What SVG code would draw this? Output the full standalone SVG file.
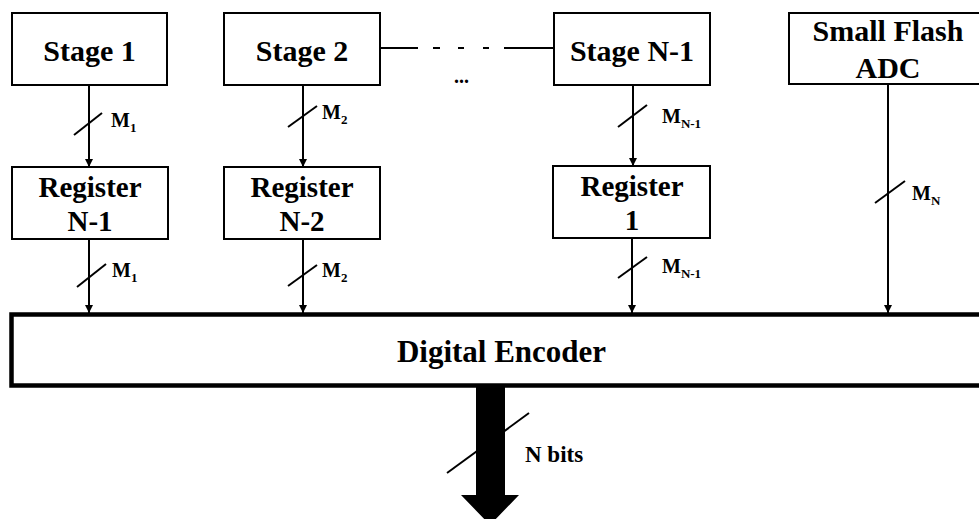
<svg xmlns="http://www.w3.org/2000/svg" width="979" height="519" viewBox="0 0 979 519">
<defs>
<style>
.box{fill:#fff;stroke:#000;stroke-width:2}
.t{font-weight:bold;fill:#000}
.big{font-size:30px;text-anchor:middle}
.reg{font-size:29px;text-anchor:middle}
.lab{font-size:20px}
.sub{font-size:13px}
.w{stroke:#000;stroke-width:2;fill:none}
</style>
<marker id="ah" viewBox="0 0 8 10" refX="8" refY="5" markerWidth="8" markerHeight="10" markerUnits="userSpaceOnUse" orient="auto">
<path d="M0,1 L8,5 L0,9 Z" fill="#000"/>
</marker>
</defs>
<rect width="979" height="519" fill="#fff"/>
<g font-family="Liberation Serif, Times New Roman, DejaVu Serif, serif">
<g id="stage1"><rect class="box" x="12" y="13" width="155" height="72"/><text class="t big" x="89.5" y="61">Stage 1</text></g>
<g id="stage2"><rect class="box" x="224" y="13" width="156" height="72"/><text class="t big" x="302" y="61">Stage 2</text></g>
<g id="stageN1"><rect class="box" x="554" y="13" width="156" height="72"/><text class="t big" x="632" y="61">Stage N-1</text></g>
<g id="flash"><rect class="box" x="789" y="13" width="200" height="71"/><text class="t big" x="888" y="41">Small Flash</text><text class="t big" x="888" y="78">ADC</text></g>
<g id="regN1"><rect class="box" x="12" y="167" width="156" height="72"/><text class="t reg" x="90" y="197">Register</text><text class="t reg" x="90" y="231">N-1</text></g>
<g id="regN2"><rect class="box" x="224" y="167" width="156" height="72"/><text class="t reg" x="302" y="197">Register</text><text class="t reg" x="302" y="231">N-2</text></g>
<g id="reg1"><rect class="box" x="553" y="166" width="157" height="72"/><text class="t reg" x="632" y="196">Register</text><text class="t reg" x="632" y="230">1</text></g>
<g id="encoder"><rect x="11.5" y="314.5" width="980" height="71" fill="#fff" stroke="#000" stroke-width="4.5"/><text class="t" x="501.5" y="362" font-size="31" text-anchor="middle">Digital Encoder</text></g>
<g id="connectors">
<line class="w" x1="380" y1="48" x2="418" y2="48"/>
<line class="w" x1="433" y1="48" x2="440" y2="48"/>
<line class="w" x1="458" y1="48" x2="464" y2="48"/>
<line class="w" x1="483" y1="48" x2="489" y2="48"/>
<line class="w" x1="504" y1="48" x2="554" y2="48"/>
<text class="t" x="454" y="83" font-size="20">...</text>
<line class="w" x1="89" y1="85" x2="89" y2="167" marker-end="url(#ah)"/>
<line class="w" x1="74" y1="135" x2="102" y2="113"/>
<text class="t lab" x="111" y="127">M<tspan class="sub" dy="5">1</tspan></text>
<line class="w" x1="303" y1="85" x2="303" y2="167" marker-end="url(#ah)"/>
<line class="w" x1="288" y1="127" x2="317" y2="106"/>
<text class="t lab" x="322" y="119">M<tspan class="sub" dy="5">2</tspan></text>
<line class="w" x1="633" y1="85" x2="633" y2="166" marker-end="url(#ah)"/>
<line class="w" x1="618" y1="127" x2="647" y2="105"/>
<text class="t lab" x="662" y="123">M<tspan class="sub" dy="5">N-1</tspan></text>
<line class="w" x1="89" y1="239" x2="89" y2="313" marker-end="url(#ah)"/>
<line class="w" x1="77" y1="287" x2="106" y2="264"/>
<text class="t lab" x="112" y="277">M<tspan class="sub" dy="5">1</tspan></text>
<line class="w" x1="303" y1="239" x2="303" y2="313" marker-end="url(#ah)"/>
<line class="w" x1="288" y1="286" x2="317" y2="265"/>
<text class="t lab" x="322" y="277">M<tspan class="sub" dy="5">2</tspan></text>
<line class="w" x1="632" y1="238" x2="632" y2="313" marker-end="url(#ah)"/>
<line class="w" x1="618" y1="278" x2="647" y2="257"/>
<text class="t lab" x="662" y="273">M<tspan class="sub" dy="5">N-1</tspan></text>
<line class="w" x1="888" y1="84" x2="888" y2="313" marker-end="url(#ah)"/>
<line class="w" x1="875" y1="203" x2="905" y2="181"/>
<text class="t lab" x="912" y="200">M<tspan class="sub" dy="5">N</tspan></text>
<path d="M476,387 L505,387 L505,495 L519,495 L490,525 L461,495 L476,495 Z" fill="#000"/>
<line class="w" x1="447" y1="473" x2="529" y2="413"/>
<text class="t" x="525" y="462" font-size="23">N bits</text>
</g>
</g>
</svg>
